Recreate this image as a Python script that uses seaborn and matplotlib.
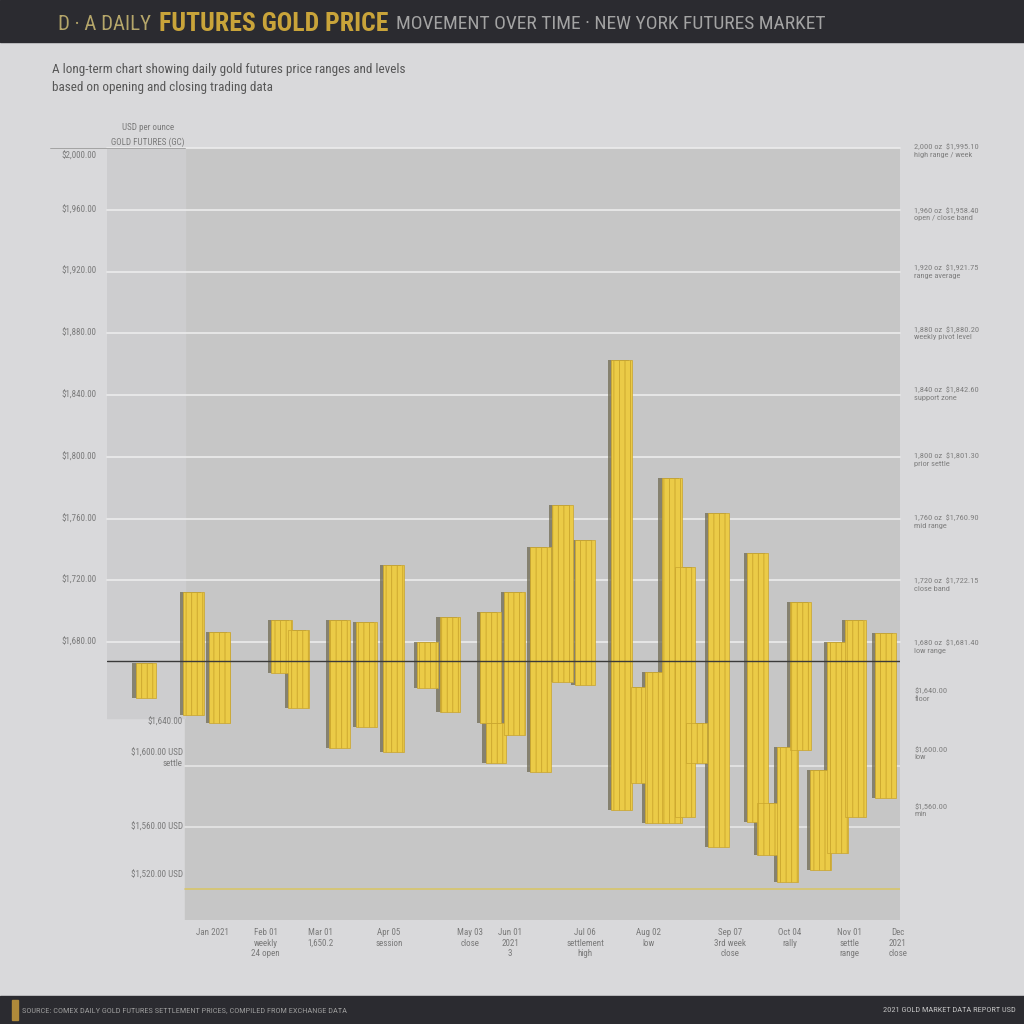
import matplotlib
matplotlib.use("Agg")
import matplotlib.pyplot as plt
from matplotlib import font_manager
from matplotlib.patches import Rectangle
from matplotlib.transforms import blended_transform_factory
import seaborn as sns

# ---------------- data ----------------
days = [1.77, 3.93, 5.10, 7.92, 8.70, 10.55, 11.80, 13.00, 14.57, 15.57,
        17.39, 17.66, 18.52, 19.66, 20.68, 21.70, 23.36, 24.27, 24.88, 25.65,
        26.24, 26.76, 27.76, 29.53, 29.98, 30.91, 31.50, 32.41, 33.18, 33.98,
        35.36]
highs = [1666.5, 1712.4, 1686.5, 1694.3, 1687.8, 1694.3, 1693.0, 1729.9, 1680.0, 1696.2,
         1699.5, 1627.6, 1712.4, 1741.6, 1768.8, 1746.1, 1862.7, 1650.9, 1660.6, 1786.3,
         1728.6, 1627.6, 1763.6, 1737.7, 1575.8, 1612.0, 1706.0, 1597.2, 1680.0, 1694.3,
         1685.9]
lows = [1643.8, 1632.8, 1627.6, 1660.0, 1637.3, 1611.4, 1625.0, 1608.8, 1650.3, 1634.7,
        1627.6, 1601.7, 1619.8, 1595.9, 1654.1, 1652.2, 1571.2, 1588.7, 1562.8, 1562.8,
        1566.7, 1601.7, 1547.3, 1563.5, 1542.1, 1524.6, 1610.1, 1532.4, 1543.4, 1566.7,
        1579.0]
reference_price = 1668.0

grid_values = [2000, 1960, 1920, 1880, 1840, 1800, 1760, 1720, 1680]
lower_grid_values = [1640, 1600, 1560, 1520]
left_labels = ["$2,000.00", "$1,960.00", "$1,920.00", "$1,880.00", "$1,840.00",
               "$1,800.00", "$1,760.00", "$1,720.00", "$1,680.00"]
left_label_values = [1995, 1960, 1920, 1880, 1840, 1800, 1760, 1720, 1680]
lower_labels = ["$1,640.00", "$1,600.00 USD\nsettle", "$1,560.00 USD", "$1,520.00 USD"]
lower_label_values = [1628, 1605, 1560, 1529]
right_labels = ["2,000 oz  $1,995.10\nhigh range / week", "1,960 oz  $1,958.40\nopen / close band",
                "1,920 oz  $1,921.75\nrange average", "1,880 oz  $1,880.20\nweekly pivot level",
                "1,840 oz  $1,842.60\nsupport zone", "1,800 oz  $1,801.30\nprior settle",
                "1,760 oz  $1,760.90\nmid range", "1,720 oz  $1,722.15\nclose band",
                "1,680 oz  $1,681.40\nlow range", "$1,640.00\nfloor", "$1,600.00\nlow",
                "$1,560.00\nmin"]
right_label_values = [1998, 1957, 1920, 1880, 1841, 1798, 1758, 1717, 1677, 1646, 1608, 1571]
xtick_days = [4.8, 7.2, 9.7, 12.8, 16.5, 18.3, 21.7, 24.6, 28.3, 31.0, 33.7, 35.9]
xtick_labels = ["Jan 2021", "Feb 01\nweekly\n24 open", "Mar 01\n1,650.2", "Apr 05\nsession",
                "May 03\nclose", "Jun 01\n2021\n3", "Jul 06\nsettlement\nhigh", "Aug 02\nlow",
                "Sep 07\n3rd week\nclose", "Oct 04\nrally", "Nov 01\nsettle\nrange", "Dec\n2021\nclose"]

# ---------------- style ----------------
sns.set_theme(style="white")

def pick(names):
    avail = {f.name for f in font_manager.fontManager.ttflist}
    for n in names:
        if n in avail:
            return n
    return "DejaVu Sans"

narrow = pick(["Liberation Sans Narrow", "Roboto Condensed", "Open Sans Condensed", "Liberation Sans"])
plt.rcParams["font.family"] = [narrow, "DejaVu Sans"]
plt.rcParams["hatch.linewidth"] = 0.6

BG = "#d9d9db"
DARK = "#2b2b30"
GOLD = "#ebcb47"
STRIPE = "#c9a42c"

fig = plt.figure(figsize=(10.24, 10.24), dpi=100, facecolor=BG)

# header / footer bands
fig.add_artist(Rectangle((0, 1 - 42 / 1024), 1, 42 / 1024, transform=fig.transFigure,
                         color=DARK, zorder=0))
fig.add_artist(Rectangle((0, 0), 1, 28 / 1024, transform=fig.transFigure,
                         color=DARK, zorder=0))

ax = fig.add_axes([107 / 1024, 1 - 920 / 1024, 793 / 1024, 772 / 1024])
ax.set_facecolor("none")
ax.set_xlim(0, 36)
ax.set_ylim(1500, 2000)
for s in ax.spines.values():
    s.set_visible(False)

split = (185 - 107) / 793
ext_bottom = (920 - 718) / 772
ax.add_patch(Rectangle((split, 0), 1 - split, 1, transform=ax.transAxes,
                       color="#c6c6c6", zorder=0))
ax.add_patch(Rectangle((0, ext_bottom), split, 1 - ext_bottom, transform=ax.transAxes,
                       color="#cdcdcf", zorder=0))

for v in grid_values:
    ax.axhline(v, color="#ececec", lw=1.2, zorder=1, clip_on=False)
for v in lower_grid_values[1:3]:
    ax.axhline(v, xmin=split, color="#e6e6e6", lw=1.2, zorder=1)
ax.axhline(lower_grid_values[3], xmin=split, color="#d8c56a", lw=1.2, zorder=1)
ax.axhline(reference_price, color="#3a3a3a", lw=1.0, zorder=4)
# thin rule under the unit caption
ax.plot([-0.072, split], [1.0, 1.0], transform=ax.transAxes, color="#9a9a9a", lw=0.6,
        clip_on=False, zorder=1)

# floating bars (price ranges)
heights = [h - l for h, l in zip(highs, lows)]
ax.bar([d - 0.14 for d in days], heights, bottom=lows, width=0.95,
       color="#6f6a52", alpha=0.75, lw=0, zorder=2)
ax.bar(days, heights, bottom=lows, width=0.95, color=GOLD, edgecolor=STRIPE,
       hatch="|||", lw=0.5, zorder=3)

# tick labels
ax.set_yticks([])
ax.set_xticks(xtick_days)
ax.set_xticklabels(xtick_labels, fontsize=6.5, color="#7a7a7a", va="top", linespacing=1.2)
ax.tick_params(axis="x", length=0, pad=6)

tr = blended_transform_factory(ax.transAxes, ax.transData)
for v, t in zip(left_label_values, left_labels):
    ax.text(-0.013, v, t, transform=tr, ha="right", va="center", fontsize=6.5, color="#7a7a7a")
for v, t in zip(lower_label_values, lower_labels):
    ax.text(split - 0.003, v, t, transform=tr, ha="right", va="center", fontsize=6.5,
            color="#7a7a7a", multialignment="right")
for v, t in zip(right_label_values, right_labels):
    ax.text(1.018, v, t, transform=tr, ha="left", va="center", fontsize=6, color="#7f7f7f",
            linespacing=1.3)
ax.text(0.085, 1.026, "USD per ounce", transform=ax.transAxes, ha="right", va="center",
        fontsize=6.5, color="#7a7a7a")
ax.text(0.098, 1.008, "GOLD FUTURES (GC)", transform=ax.transAxes, ha="right", va="center",
        fontsize=6.5, color="#7a7a7a")

# header title
ty = 1 - 24 / 1024
t0 = fig.text(58 / 1024, ty, "D · A DAILY", fontsize=15, color="#b5a66a",
              va="center", ha="left")
fig.canvas.draw()
r = fig.canvas.get_renderer()
bb = t0.get_window_extent(renderer=r)
t1 = fig.text((bb.x1 + 8) / 1024, ty, "FUTURES GOLD PRICE", fontsize=18.5,
              fontweight="bold", color="#c9a43a", va="center", ha="left")
bb = t1.get_window_extent(renderer=r)
fig.text((bb.x1 + 8) / 1024, ty, "MOVEMENT OVER TIME · NEW YORK FUTURES MARKET",
         fontsize=14, color="#a3a3a3", va="center", ha="left")

# subtitle
fig.text(52 / 1024, 1 - 69 / 1024,
         "A long-term chart showing daily gold futures price ranges and levels",
         fontsize=9.5, color="#575757", va="center", ha="left")
fig.text(52 / 1024, 1 - 87 / 1024, "based on opening and closing trading data",
         fontsize=9.5, color="#575757", va="center", ha="left")

# footer
fig.add_artist(Rectangle((12 / 1024, 4 / 1024), 6 / 1024, 20 / 1024, transform=fig.transFigure,
                         color="#b08a3a", zorder=1))
fig.text(22 / 1024, 14 / 1024,
         "SOURCE: COMEX DAILY GOLD FUTURES SETTLEMENT PRICES, COMPILED FROM EXCHANGE DATA",
         fontsize=6, color="#9a9a9a", va="center", ha="left")
fig.text(1016 / 1024, 14 / 1024, "2021 GOLD MARKET DATA REPORT USD",
         fontsize=6, color="#c0c0c0", va="center", ha="right")

fig.savefig("out.png", dpi=100, facecolor=BG)
